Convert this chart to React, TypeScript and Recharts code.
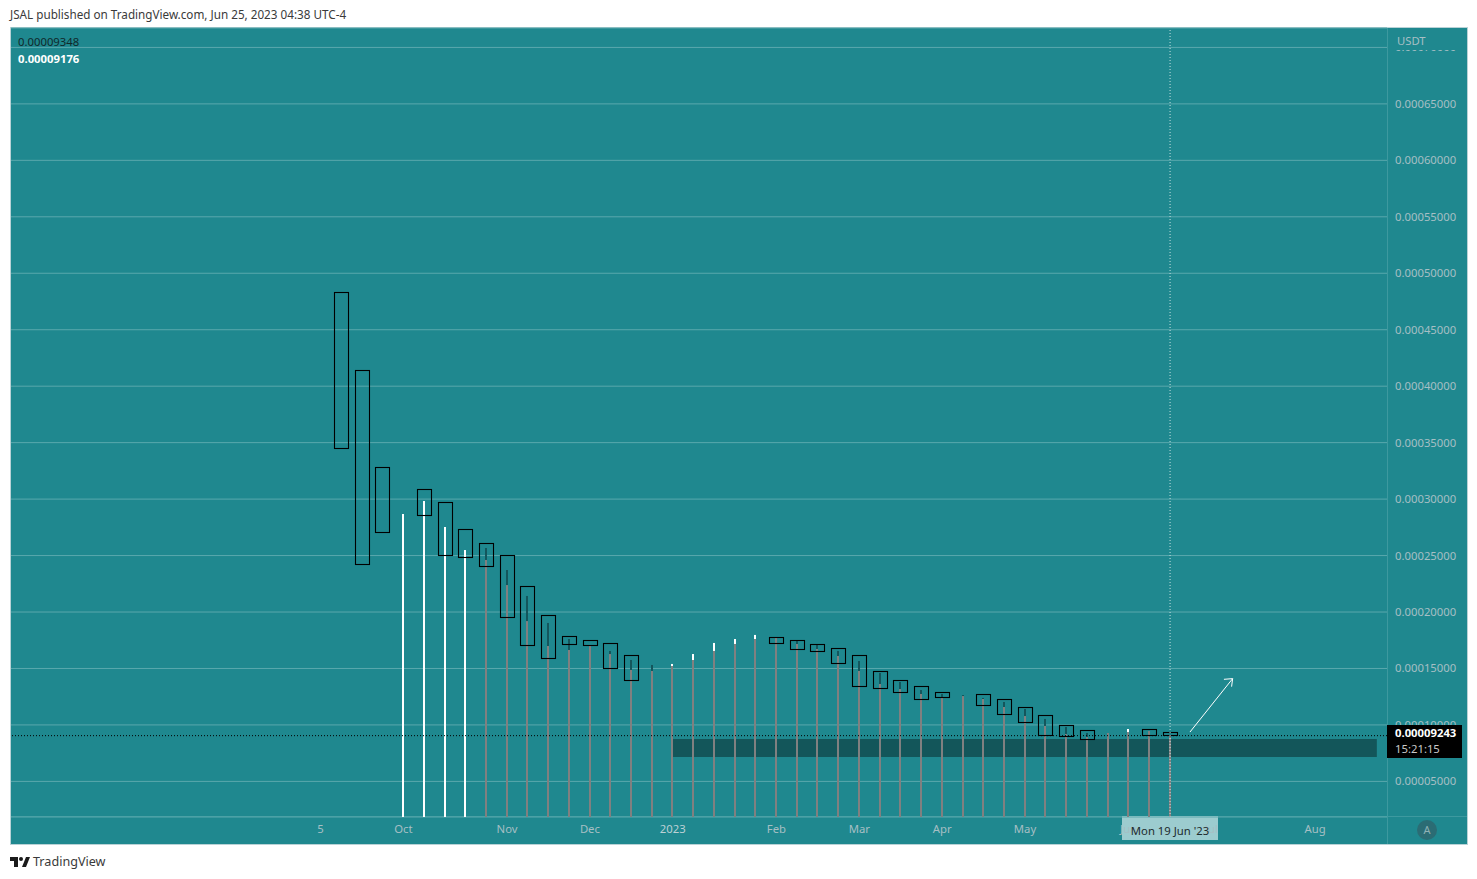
import { ComposedChart, Bar, XAxis, YAxis, CartesianGrid, ReferenceLine, ReferenceArea } from 'recharts';

// weekly candles, week 0 = 12 Sep 2022, week 40 = 19 Jun 2023
const weeks = [
  0, 1, 2, 3, 4, 5, 6, 7, 8, 9, 10, 11, 12, 13, 14, 15, 16, 17, 18, 19, 20,
  21, 22, 23, 24, 25, 26, 27, 28, 29, 30, 31, 32, 33, 34, 35, 36, 37, 38, 39, 40,
];

// candle body edges (null = no body drawn in the picture)
const bodyHigh = [
  0.0004831, 0.0004141, 0.0003282, null, 0.0003087, 0.0002972, 0.0002733, 0.0002609, 0.0002502, 0.0002228, 0.0001971,
  0.0001785, 0.000175, 0.0001723, 0.0001617, null, null, null, null, null, null,
  0.0001776, 0.000175, 0.0001714, 0.0001679, 0.0001617, 0.0001475, 0.0001395, 0.0001342, 0.0001289, null, 0.0001271,
  0.0001227, 0.0001156, 0.0001085, 0.0000997, 0.0000953, null, null, 0.0000961, 0.0000935,
];
const bodyLow = [
  0.0003446, 0.0002423, 0.0002706, null, 0.0002857, 0.0002502, 0.0002485, 0.0002405, 0.0001953, 0.0001705, 0.000159,
  0.0001714, 0.0001702, 0.0001498, 0.0001392, null, null, null, null, null, null,
  0.0001719, 0.0001666, 0.0001649, 0.0001542, 0.0001339, 0.0001321, 0.0001286, 0.0001224, 0.0001241, null, 0.000117,
  0.0001091, 0.000102, 0.0000905, 0.0000896, 0.0000869, null, null, 0.0000905, 0.0000908,
];

// wick tip, white or dark part on top of the grey stem
const tipHigh = [
  null, null, null, 0.0002868, 0.0002983, 0.0002753, 0.0002549, 0.0002567, 0.0002372, 0.0002142, 0.0001903,
  0.0001761, null, 0.0001655, 0.0001575, 0.0001531, 0.000154, 0.0001628, 0.0001726, 0.0001761, 0.0001797,
  null, 0.0001752, 0.0001708, 0.0001655, 0.0001566, 0.000146, 0.000138, 0.0001309, 0.0001274, 0.0001265, 0.0001239,
  0.0001203, 0.0001141, 0.0001053, 0.0000982, 0.0000929, null, 0.0000964, null, null,
];
const tipLow = [
  null, null, null, 0, 0, 0, 0, 0.0002461, 0.0002239, 0.000192, 0.0001699,
  0.0001664, 0.0001699, 0.0001628, 0.0001487, 0.0001478, 0.0001522, 0.0001575, 0.0001655, 0.0001717, 0.0001761,
  0.000177, 0.0001717, 0.0001673, 0.0001611, 0.0001478, 0.0001363, 0.0001318, 0.0001274, 0.0001239, 0.0001256, 0.000123,
  0.0001159, 0.0001079, 0.0000991, 0.000092, 0.0000893, 0.0000929, 0.0000937, 0.0000946, 0.0000911,
];
const tipWhite = [3, 4, 5, 6, 16, 17, 18, 19, 20, 38];

const gridTicks = [
  0.00005, 0.0001, 0.00015, 0.0002, 0.00025, 0.0003, 0.00035, 0.0004, 0.00045, 0.0005, 0.00055, 0.0006, 0.00065, 0.0007,
];
const monthTicks = [-1, 3, 8, 12, 16, 21, 25, 29, 33, 38, 42, 47];
const monthLabels = ['5', 'Oct', 'Nov', 'Dec', '2023', 'Feb', 'Mar', 'Apr', 'May', 'Jun', 'Jul', 'Aug'];

const priceLine = 0.0000905;
const crosshairWeek = 40;
const zone = { x1: 16, x2: 49.98, y1: 0.0000716, y2: 0.0000875 };
const arrow = [
  [{ x: 40.96, y: 0.0000937 }, { x: 43.02, y: 0.000141 }],
  [{ x: 43.02, y: 0.000141 }, { x: 42.6, y: 0.0001404 }],
  [{ x: 43.02, y: 0.000141 }, { x: 42.97, y: 0.0001339 }],
];

const data = weeks.map((week, i) => ({
  week,
  stem: tipLow[i] === null ? null : [0, tipLow[i]],
  tip: tipHigh[i] === null ? null : [tipLow[i], tipHigh[i]],
  body: bodyHigh[i] === null ? null : [bodyLow[i], bodyHigh[i]],
  white: tipWhite.includes(week),
}));

const BG = '#1f888f';
const GRID = '#5aa8ad';
const SEP = '#3d999f';
const LABEL = '#a6bfc4';
const DARK = '#14565c';
const FONT = '"Noto Sans", sans-serif';

const StemShape = (props: any) => {
  const { x, y, width, height } = props;
  if (!height) return null;
  return <rect x={Math.round(x + width / 2 - 1)} y={y} width={2} height={height} fill="#808080" />;
};

const TipShape = (props: any) => {
  const { x, y, width, height, payload } = props;
  if (!height) return null;
  return (
    <rect
      x={Math.round(x + width / 2 - 1)}
      y={y}
      width={2}
      height={height}
      fill={payload.white ? '#ffffff' : DARK}
    />
  );
};

const BodyShape = (props: any) => {
  const { x, y, width, height } = props;
  if (!height) return null;
  return (
    <rect
      x={Math.round(x) + 0.5}
      y={Math.round(y) + 0.5}
      width={width}
      height={Math.round(height)}
      fill="none"
      stroke="#000000"
      strokeWidth={1.1}
    />
  );
};

const MonthTick = (props: any) => {
  const { x, y, payload } = props;
  const label = monthLabels[monthTicks.indexOf(payload.value)];
  return (
    <text
      x={x}
      y={y + 8}
      textAnchor="middle"
      fontFamily={FONT}
      fontSize={11.3}
      fill={label === '2023' ? '#bdd1d5' : LABEL}
    >
      {label}
    </text>
  );
};

export default function App() {
  return (
    <div style={{ position: 'absolute', left: 0, top: 0, width: 1477, height: 879, background: '#fff', fontFamily: FONT }}>
      <div style={{ position: 'absolute', left: 10, top: 6, fontSize: 11.7, color: '#3a3a3a', whiteSpace: 'nowrap' }}>
        JSAL published on TradingView.com, Jun 25, 2023 04:38 UTC-4
      </div>

      {/* chart panel behind the svg */}
      <div
        style={{
          position: 'absolute',
          left: 10,
          top: 27,
          width: 1458,
          height: 818,
          boxSizing: 'border-box',
          background: BG,
          border: '1px solid #b9d2d6',
        }}
      />
      <div style={{ position: 'absolute', left: 1387, top: 28, width: 1, height: 816, background: SEP }} />
      <div style={{ position: 'absolute', left: 11, top: 816, width: 1456, height: 1, background: SEP }} />
      <div style={{ position: 'absolute', left: 1122, top: 816, width: 96, height: 24, background: '#9ccccf' }} />

      <div style={{ position: 'absolute', left: 0, top: 0 }}>
        <ComposedChart
          width={1477}
          height={879}
          data={data}
          margin={{ top: 28, right: 10, bottom: 35, left: 11 }}
          barGap={-14}
        >
          <CartesianGrid vertical={false} stroke={GRID} strokeWidth={1} />
          <XAxis
            dataKey="week"
            type="number"
            domain={[-15.94, 50.47]}
            allowDataOverflow
            ticks={monthTicks}
            interval={0}
            height={27}
            axisLine={false}
            tickLine={false}
            tick={<MonthTick />}
          />
          <YAxis
            orientation="right"
            type="number"
            width={80}
            domain={[0.00001847, 0.0007172]}
            allowDataOverflow
            ticks={gridTicks}
            interval={0}
            axisLine={false}
            tickLine={false}
            tickMargin={2}
            tickFormatter={(v: number) => v.toFixed(8)}
            tick={{ fill: LABEL, fontSize: 11.3, fontFamily: FONT }}
          />
          <Bar dataKey="stem" barSize={14} shape={<StemShape />} isAnimationActive={false} />
          <Bar dataKey="tip" barSize={14} shape={<TipShape />} isAnimationActive={false} />
          <Bar dataKey="body" barSize={14} shape={<BodyShape />} isAnimationActive={false} />
          <ReferenceArea
            x1={zone.x1}
            x2={zone.x2}
            y1={zone.y1}
            y2={zone.y2}
            fill="#000000"
            fillOpacity={0.37}
            stroke="none"
          />
          <ReferenceLine y={priceLine} stroke="#000000" strokeDasharray="1 2" />
          <ReferenceLine x={crosshairWeek} stroke="#c9dfe2" strokeDasharray="1 2" />
          {arrow.map((segment, i) => (
            <ReferenceLine key={i} segment={segment} stroke="#ffffff" strokeWidth={1} />
          ))}
        </ComposedChart>
      </div>

      {/* legend values */}
      <div style={{ position: 'absolute', left: 18, top: 34, fontSize: 11.3, color: '#10282b' }}>0.00009348</div>
      <div style={{ position: 'absolute', left: 18, top: 51, fontSize: 11.3, fontWeight: 700, color: '#ffffff' }}>0.00009176</div>

      {/* currency label hides the top price tick */}
      <div style={{ position: 'absolute', left: 1388, top: 28, width: 78, height: 21.5, background: BG }} />
      <div style={{ position: 'absolute', left: 1397, top: 33, fontSize: 11.3, color: LABEL }}>USDT</div>

      {/* last price tag */}
      <div style={{ position: 'absolute', left: 1387, top: 725, width: 75, height: 33, background: '#000000', color: '#fff', fontSize: 11.3, lineHeight: '16px' }}>
        <div style={{ paddingLeft: 8, fontWeight: 700 }}>0.00009243</div>
        <div style={{ paddingLeft: 8, color: '#c8c8c8' }}>15:21:15</div>
      </div>

      {/* crosshair date */}
      <div style={{ position: 'absolute', left: 1122, top: 816, width: 96, height: 24, lineHeight: '29px', textAlign: 'center', fontSize: 11.3, color: '#1c2b2d', whiteSpace: 'nowrap' }}>
        Mon 19 Jun '23
      </div>

      {/* auto scale button */}
      <div
        style={{
          position: 'absolute',
          left: 1417,
          top: 820,
          width: 20,
          height: 20,
          borderRadius: 10,
          background: '#2b6c74',
          color: '#8fb1b5',
          fontSize: 11,
          lineHeight: '20px',
          textAlign: 'center',
        }}
      >
        A
      </div>

      {/* footer */}
      <svg style={{ position: 'absolute', left: 10, top: 857 }} width={20} height={11} viewBox="0 0 20 11">
        <path d="M0 0H8V10H4V4H0Z M12 10L16 0H20L16 10Z" fill="#1b1b1b" />
        <circle cx={11} cy={2} r={2} fill="#1b1b1b" />
      </svg>
      <div style={{ position: 'absolute', left: 33, top: 853, fontSize: 12.6, color: '#3a3a3a' }}>TradingView</div>
    </div>
  );
}
